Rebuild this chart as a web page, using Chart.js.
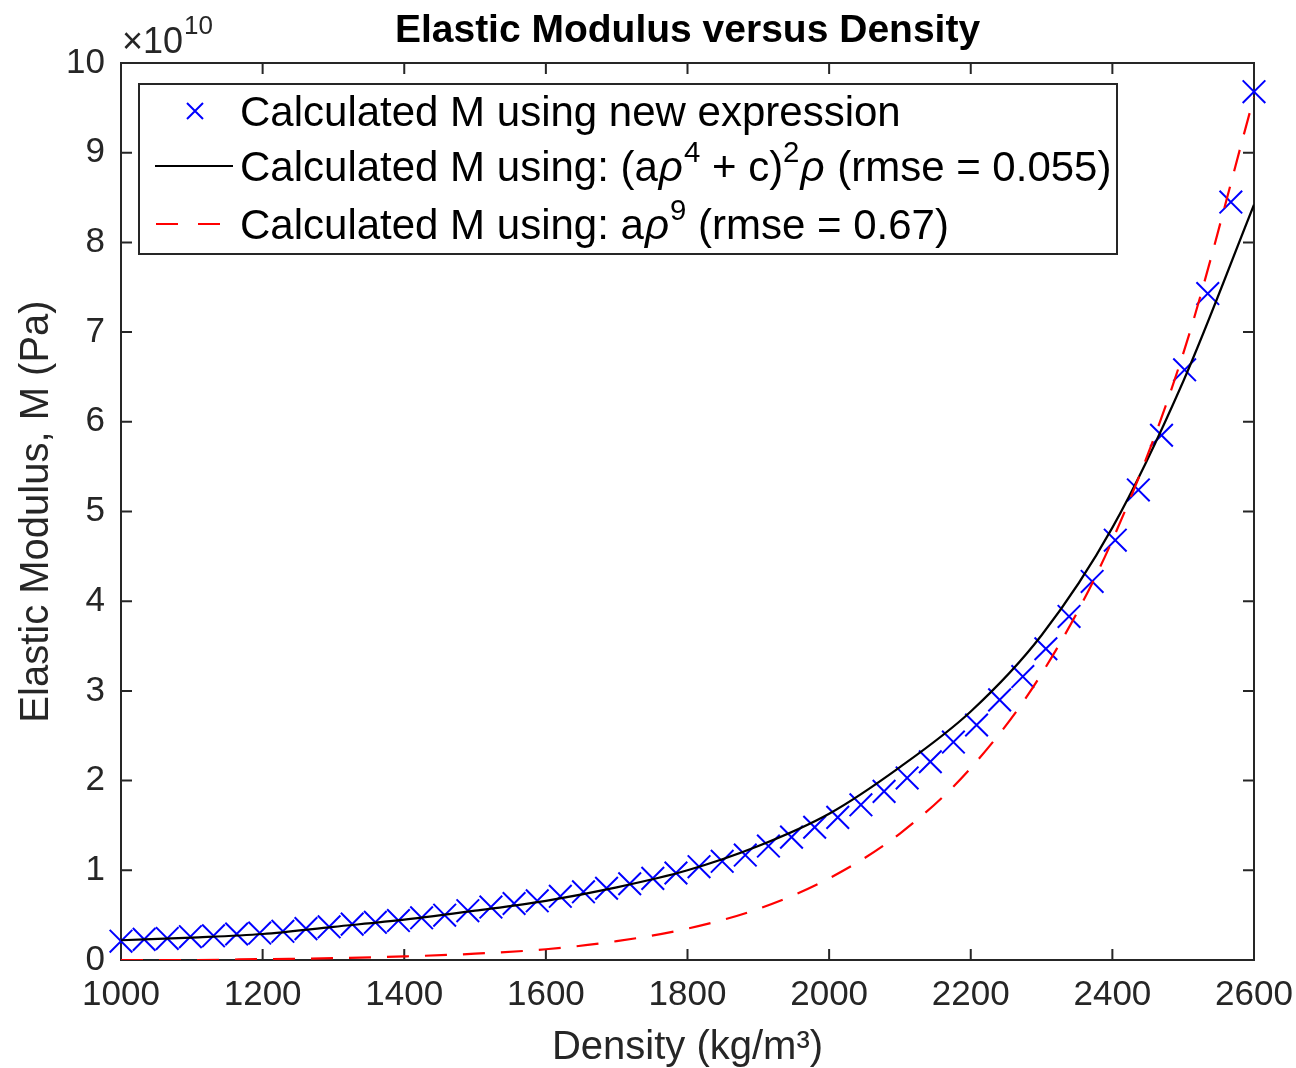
<!DOCTYPE html>
<html>
<head>
<meta charset="utf-8">
<script src="https://cdn.jsdelivr.net/npm/chart.js@4.4.0/dist/chart.umd.min.js"></script>
<style>
  html, body { margin: 0; padding: 0; background: #fff; }
  #wrap { width: 1296px; height: 1068px; }
</style>
</head>
<body>
<div id="wrap"><canvas id="chart" width="1296" height="1068"></canvas></div>
<script>
// density of the "new expression" points (kg/m3)
const densityNew = [
  1000.0, 1032.7, 1065.3, 1098.0, 1130.6, 1163.3, 1195.9, 1228.6, 1261.2, 1293.9,
  1326.5, 1359.2, 1391.8, 1424.5, 1457.1, 1489.8, 1522.4, 1555.1, 1587.8, 1620.4,
  1653.1, 1685.7, 1718.4, 1751.0, 1783.7, 1816.3, 1849.0, 1881.6, 1914.3, 1946.9,
  1979.6, 2012.2, 2044.9, 2077.6, 2110.2, 2142.9, 2175.5, 2208.2, 2240.8, 2273.5,
  2306.1, 2338.8, 2371.4, 2404.1, 2436.7, 2469.4, 2502.0, 2534.7, 2567.3, 2600.0,
];
// modulus, units of 1e10 Pa
const modulusNew = [
  0.21, 0.23, 0.24, 0.26, 0.27, 0.29, 0.30, 0.32, 0.35, 0.37,
  0.40, 0.42, 0.44, 0.47, 0.50, 0.55, 0.59, 0.63, 0.66, 0.71,
  0.76, 0.80, 0.85, 0.91, 0.97, 1.04, 1.10, 1.17, 1.27, 1.37,
  1.48, 1.59, 1.73, 1.88, 2.03, 2.21, 2.43, 2.62, 2.90, 3.16,
  3.47, 3.83, 4.22, 4.68, 5.24, 5.85, 6.58, 7.43, 8.45, 9.68,
];

// fitted curves, read every 100 kg/m3
const densityFit = [1000, 1100, 1200, 1300, 1400, 1500, 1600, 1700, 1800,
  1900, 2000, 2100, 2200, 2300, 2400, 2500, 2600];
const modulusQuartic = [0.22, 0.25, 0.29, 0.37, 0.45, 0.55, 0.66, 0.81, 1.00,
  1.27, 1.63, 2.15, 2.77, 3.62, 4.82, 6.45, 8.42];
const modulusNinth = [0.00, 0.00, 0.01, 0.02, 0.04, 0.07, 0.12, 0.21, 0.35,
  0.57, 0.91, 1.41, 2.14, 3.19, 4.68, 6.76, 9.62];

const xTicks = [1000, 1200, 1400, 1600, 1800, 2000, 2200, 2400, 2600];
const yTicks = [0, 1, 2, 3, 4, 5, 6, 7, 8, 9, 10];

const titleText = 'Elastic Modulus versus Density';
const xTitle = 'Density (kg/m\u00B3)';
const yTitle = 'Elastic Modulus, M (Pa)';

// legend text pieces: sup = superscript, it = italic
const legendNew = [{ t: 'Calculated M using new expression' }];
const legendQuartic = [
  { t: 'Calculated M using: (a' }, { t: '\u03C1', it: true }, { t: '4', sup: true },
  { t: ' + c)' }, { t: '2', sup: true }, { t: '\u03C1', it: true }, { t: ' (rmse = 0.055)' },
];
const legendNinth = [
  { t: 'Calculated M using: a' }, { t: '\u03C1', it: true }, { t: '9', sup: true },
  { t: ' (rmse = 0.67)' },
];

const FONT = '"Liberation Sans", Arial, Helvetica, sans-serif';
const AXIS = '#262626';

const toPoints = (xs, ys) => xs.map((x, i) => ({ x: x, y: ys[i] }));

const drawRich = (ctx, parts, x, y, size) => {
  parts.forEach((p) => {
    const fs = p.sup ? size * 0.7 : size;
    ctx.font = `${p.it ? 'italic ' : ''}${fs}px ${FONT}`;
    const dy = p.sup ? -size * 0.45 : 0;
    if (p.it) x += 1;
    ctx.fillText(p.t, x, y + dy);
    x += ctx.measureText(p.t).width;
    if (p.it) x += 1;
  });
};

const frame = {
  id: 'frame',
  beforeDatasetsDraw: (chart) => {
    const { ctx, chartArea: a, scales } = chart;
    const tl = 11;
    ctx.save();
    ctx.strokeStyle = AXIS;
    ctx.lineWidth = 2;
    ctx.strokeRect(a.left, a.top, a.right - a.left, a.bottom - a.top);
    ctx.beginPath();
    xTicks.forEach((v) => {
      const px = scales.x.getPixelForValue(v);
      ctx.moveTo(px, a.bottom);
      ctx.lineTo(px, a.bottom - tl);
      ctx.moveTo(px, a.top);
      ctx.lineTo(px, a.top + tl);
    });
    yTicks.forEach((v) => {
      const py = scales.y.getPixelForValue(v);
      ctx.moveTo(a.left, py);
      ctx.lineTo(a.left + tl, py);
      ctx.moveTo(a.right, py);
      ctx.lineTo(a.right - tl, py);
    });
    ctx.stroke();
    ctx.restore();
  },
  afterDatasetsDraw: (chart) => {
    const { ctx, chartArea: a } = chart;
    ctx.save();

    // title
    ctx.fillStyle = '#000';
    ctx.font = `bold 39px ${FONT}`;
    ctx.textAlign = 'center';
    ctx.textBaseline = 'alphabetic';
    ctx.fillText(titleText, (a.left + a.right) / 2, 42);

    // x10^10 exponent
    ctx.fillStyle = AXIS;
    ctx.textAlign = 'left';
    ctx.font = `36px ${FONT}`;
    ctx.fillText('\u00D710', a.left + 1, 53);
    const w = ctx.measureText('\u00D710').width;
    ctx.font = `26px ${FONT}`;
    ctx.fillText('10', a.left + 2 + w, 34);

    // legend
    const lx = 139, ly = 84, lw = 978, lh = 170;
    ctx.fillStyle = '#fff';
    ctx.fillRect(lx, ly, lw, lh);
    ctx.strokeStyle = AXIS;
    ctx.lineWidth = 2;
    ctx.strokeRect(lx, ly, lw, lh);

    const rows = [111, 166, 224];
    const size = 42;
    // marker sample
    ctx.strokeStyle = '#0000ff';
    ctx.lineWidth = 2;
    ctx.beginPath();
    ctx.moveTo(187, rows[0] - 8); ctx.lineTo(203, rows[0] + 8);
    ctx.moveTo(203, rows[0] - 8); ctx.lineTo(187, rows[0] + 8);
    ctx.stroke();
    // solid sample
    ctx.strokeStyle = '#000';
    ctx.beginPath();
    ctx.moveTo(155, rows[1]); ctx.lineTo(233, rows[1]);
    ctx.stroke();
    // dashed sample
    ctx.strokeStyle = '#ff0000';
    ctx.setLineDash([22, 20]);
    ctx.beginPath();
    ctx.moveTo(156, rows[2]); ctx.lineTo(222, rows[2]);
    ctx.stroke();
    ctx.setLineDash([]);

    ctx.fillStyle = '#000';
    drawRich(ctx, legendNew, 240, rows[0] + 15, size);
    drawRich(ctx, legendQuartic, 240, rows[1] + 15, size);
    drawRich(ctx, legendNinth, 240, rows[2] + 15, size);

    ctx.restore();
  },
};

new Chart(document.getElementById('chart'), {
  type: 'scatter',
  plugins: [frame],
  data: {
    datasets: [
      {
        label: 'Calculated M using new expression',
        data: toPoints(densityNew, modulusNew),
        pointStyle: 'crossRot',
        pointRadius: 16,
        pointBorderWidth: 2,
        borderColor: '#0000ff',
        backgroundColor: '#0000ff',
        showLine: false,
        clip: false,
        order: 3,
      },
      {
        label: 'Calculated M using: (a\u03C1\u2074 + c)\u00B2\u03C1 (rmse = 0.055)',
        data: toPoints(densityFit, modulusQuartic),
        showLine: true,
        pointRadius: 0,
        borderColor: '#000000',
        borderWidth: 2.2,
        cubicInterpolationMode: 'monotone',
        order: 2,
      },
      {
        label: 'Calculated M using: a\u03C1\u2079 (rmse = 0.67)',
        data: toPoints(densityFit, modulusNinth),
        showLine: true,
        pointRadius: 0,
        borderColor: '#ff0000',
        borderWidth: 2.2,
        borderDash: [22, 16],
        cubicInterpolationMode: 'monotone',
        order: 1,
      },
    ],
  },
  options: {
    responsive: false,
    animation: false,
    devicePixelRatio: 1,
    layout: {
      padding: { left: 0, right: 42, top: 63, bottom: 0 },
    },
    plugins: {
      legend: { display: false },
      tooltip: { enabled: false },
    },
    scales: {
      x: {
        type: 'linear',
        min: 1000,
        max: 2600,
        afterBuildTicks: (scale) => {
          scale.ticks = xTicks.map((v) => ({ value: v }));
        },
        afterFit: (scale) => {
          scale.height = 108;
          scale.paddingLeft = 0;
          scale.paddingRight = 0;
        },
        grid: { display: false, drawTicks: false },
        border: { display: false },
        ticks: {
          autoSkip: false,
          maxRotation: 0,
          padding: 14,
          color: AXIS,
          font: { family: FONT, size: 35 },
          callback: (v) => String(v),
        },
        title: {
          display: true,
          text: xTitle,
          color: AXIS,
          padding: 0,
          font: { family: FONT, size: 40, lineHeight: 1.0 },
        },
      },
      y: {
        type: 'linear',
        min: 0,
        max: 10,
        afterBuildTicks: (scale) => {
          scale.ticks = yTicks.map((v) => ({ value: v }));
        },
        afterFit: (scale) => {
          scale.width = 121;
          scale.paddingTop = 0;
          scale.paddingBottom = 0;
        },
        grid: { display: false, drawTicks: false },
        border: { display: false },
        ticks: {
          autoSkip: false,
          padding: 16,
          color: AXIS,
          font: { family: FONT, size: 35 },
          callback: (v) => String(v),
        },
        title: {
          display: true,
          text: yTitle,
          color: AXIS,
          padding: { top: 13 },
          font: { family: FONT, size: 40 },
        },
      },
    },
  },
});
</script>
</body>
</html>
